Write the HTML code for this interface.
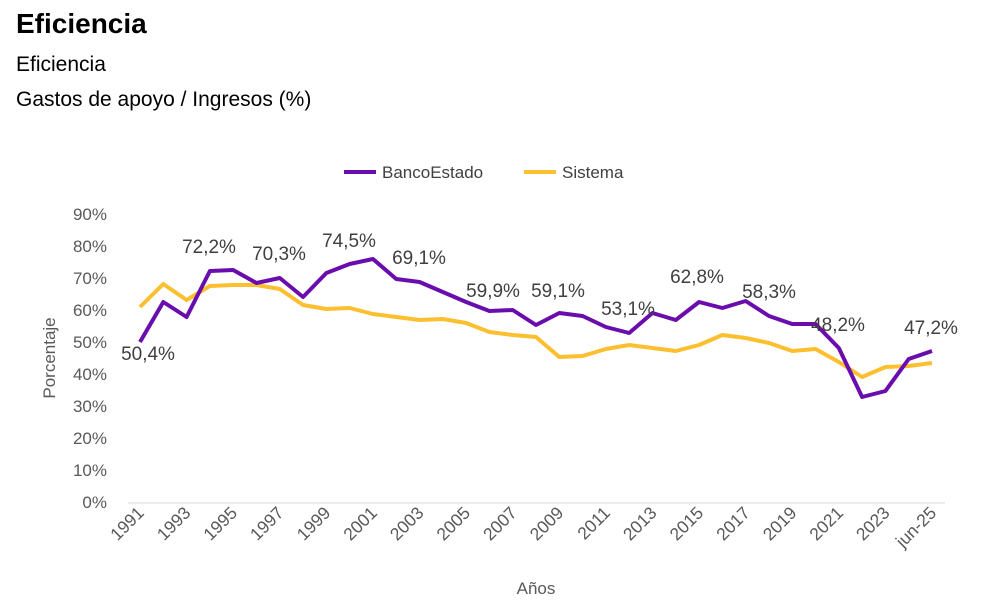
<!DOCTYPE html>
<html><head><meta charset="utf-8"><style>
body{margin:0;background:#fff;width:982px;height:608px;overflow:hidden;font-family:"Liberation Sans",Calibri,sans-serif}
</style></head><body>
<svg width="982" height="608" xmlns="http://www.w3.org/2000/svg" font-family="Liberation Sans, sans-serif">
<text x="16" y="33" font-size="28" font-weight="bold" fill="#000">Eficiencia</text>
<text x="16" y="71" font-size="21" fill="#000">Eficiencia</text>
<text x="16" y="106" font-size="21" fill="#000">Gastos de apoyo / Ingresos (%)</text>
<line x1="344" y1="172" x2="376" y2="172" stroke="#6a0dad" stroke-width="4"/>
<text x="382" y="178" font-size="17" fill="#404040">BancoEstado</text>
<line x1="524" y1="172" x2="556" y2="172" stroke="#fbbf2f" stroke-width="4"/>
<text x="562" y="178" font-size="17" fill="#404040">Sistema</text>
<g font-size="17" fill="#595959" text-anchor="end">
<text x="107" y="220">90%</text><text x="107" y="252">80%</text><text x="107" y="284">70%</text><text x="107" y="316">60%</text><text x="107" y="348">50%</text><text x="107" y="380">40%</text><text x="107" y="412">30%</text><text x="107" y="444">20%</text><text x="107" y="476">10%</text><text x="107" y="508">0%</text>
</g>
<line x1="128" y1="503" x2="945" y2="503" stroke="#d9d9d9" stroke-width="1"/>
<text transform="translate(55,358) rotate(-90)" font-size="17" fill="#595959" text-anchor="middle">Porcentaje</text>
<text x="536" y="594" font-size="17" fill="#595959" text-anchor="middle">Años</text>
<g font-size="17.5" fill="#595959" text-anchor="end">
<text transform="translate(145,514) rotate(-45)">1991</text>
<text transform="translate(191.6,514) rotate(-45)">1993</text>
<text transform="translate(238.2,514) rotate(-45)">1995</text>
<text transform="translate(284.8,514) rotate(-45)">1997</text>
<text transform="translate(331.5,514) rotate(-45)">1999</text>
<text transform="translate(378.1,514) rotate(-45)">2001</text>
<text transform="translate(424.7,514) rotate(-45)">2003</text>
<text transform="translate(471.3,514) rotate(-45)">2005</text>
<text transform="translate(517.9,514) rotate(-45)">2007</text>
<text transform="translate(564.5,514) rotate(-45)">2009</text>
<text transform="translate(611.2,514) rotate(-45)">2011</text>
<text transform="translate(657.8,514) rotate(-45)">2013</text>
<text transform="translate(704.4,514) rotate(-45)">2015</text>
<text transform="translate(751,514) rotate(-45)">2017</text>
<text transform="translate(797.6,514) rotate(-45)">2019</text>
<text transform="translate(844.2,514) rotate(-45)">2021</text>
<text transform="translate(890.8,514) rotate(-45)">2023</text>
<text transform="translate(937.4,514) rotate(-45)">jun-25</text>
</g>
<polyline id="sis" fill="none" stroke="#fbbf2f" stroke-width="4" stroke-linejoin="round"/>
<polyline id="ban" fill="none" stroke="#6a0dad" stroke-width="4" stroke-linejoin="round"/>
<g font-size="19" fill="#404040" text-anchor="middle">
<text x="148" y="360">50,4%</text><text x="209" y="253">72,2%</text><text x="279" y="260">70,3%</text><text x="349" y="247">74,5%</text><text x="419" y="264">69,1%</text><text x="493" y="297">59,9%</text><text x="558" y="297">59,1%</text><text x="628" y="315">53,1%</text><text x="697" y="283">62,8%</text><text x="769" y="298">58,3%</text><text x="838" y="331">48,2%</text><text x="931" y="334">47,2%</text>
</g>
<script>
var b=[342,302,317,271,270,283,278,297,273,264,259,279,282,292,302,311,310,325,313,316,327,333,313,320,302,308,301,316,324,324,348,397,391,359,351];
var s=[307,284,300,286,285,285,289,305,309,308,314,317,320,319,323,332,335,337,357,356,349,345,348,351,345,335,338,343,351,349,362,377,367,366,363];
function X(i){return 140+i*23.294;}
document.getElementById('ban').setAttribute('points',b.map(function(v,i){return X(i)+','+v}).join(' '));
document.getElementById('sis').setAttribute('points',s.map(function(v,i){return X(i)+','+v}).join(' '));
</script>
</svg>
</body></html>
